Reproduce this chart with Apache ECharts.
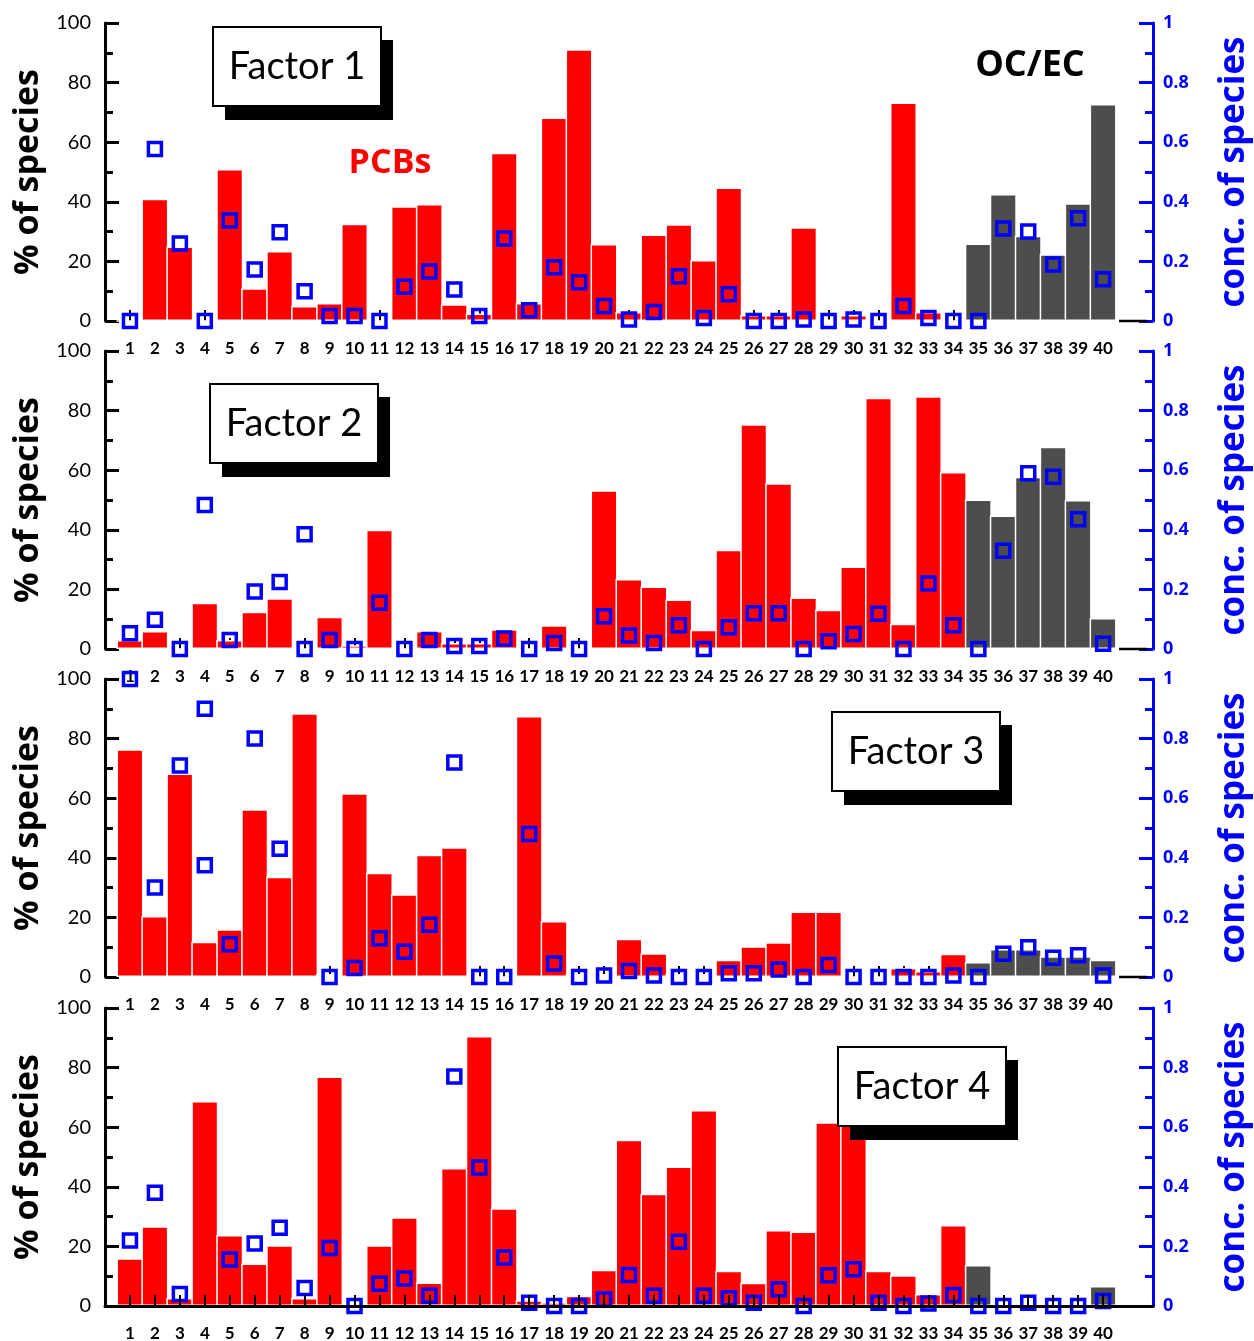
<!DOCTYPE html>
<html>
<head>
<meta charset="utf-8">
<script src="https://cdn.jsdelivr.net/npm/echarts/dist/echarts.min.js"></script>
<style>
  html, body { margin: 0; padding: 0; background: #fff; }
  #chart { width: 1254px; height: 1341px; }
</style>
</head>
<body>
<div id="chart"></div>
<script>
// species numbers on the x axis
const species = ['1','2','3','4','5','6','7','8','9','10','11','12','13','14','15','16','17','18','19','20',
  '21','22','23','24','25','26','27','28','29','30','31','32','33','34','35','36','37','38','39','40']

// % of species (bars), species 35-40 are OC/EC
const f1Pct = [0, 41, 25, 0, 51, 11, 23.5, 5, 6, 32.6, 0, 38.5, 39.3, 5.6, 2.5, 56.5, 6, 68.3, 91.2, 25.8,
  3, 29, 32.5, 20.5, 44.8, 2, 2, 31.5, 0.5, 2, 0, 73.3, 3, 0, 26, 42.6, 28.6, 22.4, 39.5, 72.8]
const f2Pct = [3, 6, 0, 15.5, 3, 12.5, 17, 0, 10.8, 1.3, 40, 0, 6, 2, 2, 6.6, 0, 8, 0, 53.3,
  23.5, 21, 16.6, 6.5, 33.3, 75.4, 55.6, 17.3, 13.2, 27.7, 84.3, 8.5, 84.8, 59.4, 50.2, 44.8, 57.8, 67.9, 50, 10.4]
const f3Pct = [76.4, 20.5, 68.3, 11.8, 16, 56.3, 33.6, 88.5, 1, 61.7, 35, 27.8, 41, 43.5, 0, 0, 87.6, 18.8, 1, 1,
  12.8, 8, 1, 1, 5.8, 10.3, 11.7, 22, 22, 0, 0, 3, 2, 7.8, 5, 9.4, 9.4, 7, 7, 5.8]
const f4Pct = [16, 26.8, 2.7, 68.8, 23.8, 14.3, 20.4, 2.7, 77, 0, 20.4, 29.8, 7.9, 46.3, 90.6, 32.8, 1.9, 1.3, 3.4, 12.2,
  55.8, 37.7, 46.8, 65.8, 11.8, 7.8, 25.5, 25, 61.7, 64, 11.8, 10.3, 4, 27.2, 13.8, 0, 0, 0, 0, 6.7]

// conc. of species (blue squares), null = no square drawn
const f1Conc = [0, 0.577, 0.26, 0, 0.337, 0.173, 0.298, 0.1, 0.017, 0.017, 0, 0.115, 0.166, 0.106, 0.017, 0.277, 0.036, 0.18, 0.13, 0.05,
  0.005, 0.03, 0.15, 0.01, 0.09, 0, 0, 0.005, 0, 0.005, 0, 0.05, 0.01, 0, 0, 0.31, 0.3, 0.19, 0.345, 0.14]
const f2Conc = [0.053, 0.098, 0, 0.483, 0.03, 0.193, 0.225, 0.385, 0.03, 0, 0.155, 0, 0.03, 0.01, 0.01, 0.035, 0, 0.02, 0, 0.11,
  0.045, 0.02, 0.08, 0, 0.073, 0.12, 0.12, 0, 0.026, 0.05, 0.118, 0, 0.22, 0.08, 0, 0.33, 0.59, 0.578, 0.435, 0.018]
const f3Conc = [1.0, 0.3, 0.71, 0.9, 0.11, 0.8, 0.43, null, 0, 0.03, 0.13, 0.085, 0.175, 0.72, 0, 0, 0.48, 0.045, 0, 0.005,
  0.02, 0.005, 0, 0, 0.013, 0.013, 0.025, 0, 0.04, 0, 0, 0, 0, 0.005, 0, 0.078, 0.1, 0.065, 0.073, 0.005]
const f4Conc = [0.22, 0.38, 0.04, null, 0.156, 0.21, 0.263, 0.06, 0.195, 0, 0.075, 0.092, 0.034, 0.77, 0.465, 0.163, 0.011, 0, 0, 0.022,
  0.104, 0.034, 0.216, 0.034, 0.026, 0.011, 0.056, 0, 0.103, 0.123, 0.011, 0, 0.008, 0.037, 0, 0, 0.011, 0, 0, 0.017]

// second squares drawn at the same species: [species, conc]
const f2Extra = [[8, 0]]
const f3Extra = [[4, 0.375]]

const panels = [
  {pct: f1Pct, conc: f1Conc, extra: [], label: 'Factor 1', top: 23, box: [213, 27]},
  {pct: f2Pct, conc: f2Conc, extra: f2Extra, label: 'Factor 2', top: 351, box: [210, 384]},
  {pct: f3Pct, conc: f3Conc, extra: f3Extra, label: 'Factor 3', top: 679, box: [832, 712]},
  {pct: f4Pct, conc: f4Conc, extra: [], label: 'Factor 4', top: 1008, box: [838, 1047]}
]
const plotH = 298
const cats = [''].concat(species, ['', ''])

let chart = echarts.init(document.getElementById('chart'), null, {renderer: 'canvas'})

let grid = [], xAxis = [], yAxis = [], series = [], graphic = []

panels.forEach((p, k) => {
  grid.push({left: 105, right: 101, top: p.top, height: plotH, containLabel: false, outerBoundsMode: 'none'})
  xAxis.push({
    gridIndex: k,
    type: 'category',
    data: cats,
    boundaryGap: false,
    z: k === 3 ? 10 : 0,
    axisLine: {show: k === 3, onZero: false, lineStyle: {color: '#000', width: 3}},
    axisTick: {
      show: true, inside: true, length: 11,
      interval: (i) => i >= 1 && i <= 40,
      lineStyle: {color: '#000', width: 2}
    },
    axisLabel: {
      interval: 0, color: '#000', fontSize: 17, fontWeight: 'bold',
      fontFamily: 'Lato', margin: 19
    },
    splitLine: {show: false}
  })
  yAxis.push({
    gridIndex: k,
    type: 'value', min: 0, max: 100, interval: 20, position: 'left',
    name: '% of species', nameLocation: 'middle', nameGap: 58,
    nameTextStyle: {color: '#000', fontSize: 34, fontWeight: 'bold', fontFamily: 'Open Sans'},
    axisLine: {show: true, lineStyle: {color: '#000', width: 3}},
    axisTick: {show: true, inside: true, length: 14, lineStyle: {color: '#000', width: 3}},
    minorTick: {show: true, splitNumber: 2, length: 8, lineStyle: {color: '#000', width: 3}},
    axisLabel: {color: '#000', fontSize: 20, fontFamily: 'Lato', margin: 14},
    splitLine: {show: false}
  })
  yAxis.push({
    gridIndex: k,
    type: 'value', min: 0, max: 1, interval: 0.2, position: 'right',
    name: 'conc. of species', nameLocation: 'middle', nameGap: 64, nameRotate: 90,
    nameTextStyle: {color: '#0000ff', fontSize: 35, fontWeight: 'bold', fontFamily: 'Open Sans'},
    axisLine: {show: true, lineStyle: {color: '#0000ff', width: 3}},
    axisTick: {show: true, inside: true, length: 14, lineStyle: {color: '#0000ff', width: 3}},
    minorTick: {show: true, splitNumber: 2, length: 8, lineStyle: {color: '#0000ff', width: 3}},
    axisLabel: {color: '#0000ff', fontSize: 18, fontWeight: 'bold', fontFamily: 'Open Sans', margin: 10},
    splitLine: {show: false}
  })

  series.push({
    type: 'bar',
    xAxisIndex: k,
    yAxisIndex: 2 * k,
    barWidth: 27,
    data: p.pct.map((v, i) => [i + 1, v]),
    itemStyle: {
      color: (d) => d.dataIndex >= 34 ? '#4d4d4d' : '#ff0000',
      borderColor: '#fff',
      borderWidth: 1.5
    },
    z: 2
  })
  series.push({
    type: 'scatter',
    xAxisIndex: k,
    yAxisIndex: 2 * k + 1,
    symbol: 'rect',
    symbolSize: 13,
    clip: false,
    data: p.conc.map((v, i) => [i + 1, v]).filter(d => d[1] !== null).concat(p.extra),
    itemStyle: {color: 'rgba(0,0,0,0)', borderColor: '#0000ff', borderWidth: 3.5, opacity: 1},
    z: 5
  })

  // factor label box with a drop shadow
  let bx = p.box[0], by = p.box[1]
  graphic.push({
    type: 'rect', z: 100,
    shape: {x: bx + 12, y: by + 13, width: 168, height: 80},
    style: {fill: '#000'}
  })
  graphic.push({
    type: 'rect', z: 101,
    shape: {x: bx, y: by, width: 168, height: 79},
    style: {fill: '#fff', stroke: '#000', lineWidth: 2}
  })
  graphic.push({
    type: 'text', z: 102,
    x: bx + 84, y: by + 40,
    style: {
      text: p.label, fill: '#000', font: '38px Lato',
      align: 'center', verticalAlign: 'middle'
    }
  })

  // short stub of the zero line right of the last bar
  if (k < 3) {
    graphic.push({
      type: 'line', z: 50,
      shape: {x1: 1119, y1: p.top + plotH, x2: 1147, y2: p.top + plotH},
      style: {stroke: '#000', lineWidth: 2.5}
    })
  }
})

graphic.push({
  type: 'text', z: 102, x: 390, y: 163,
  style: {text: 'PCBs', fill: '#ff0000', font: 'bold 34px "Open Sans"', align: 'center', verticalAlign: 'middle'}
})
graphic.push({
  type: 'text', z: 102, x: 1030, y: 66,
  style: {text: 'OC/EC', fill: '#000', font: 'bold 36px "Open Sans"', align: 'center', verticalAlign: 'middle'}
})

let option = {
  backgroundColor: '#fff',
  animation: false,
  grid: grid,
  xAxis: xAxis,
  yAxis: yAxis,
  series: series,
  graphic: graphic
}
chart.setOption(option)
window.onresize = function () {
  chart.resize()
}
</script>
</body>
</html>
